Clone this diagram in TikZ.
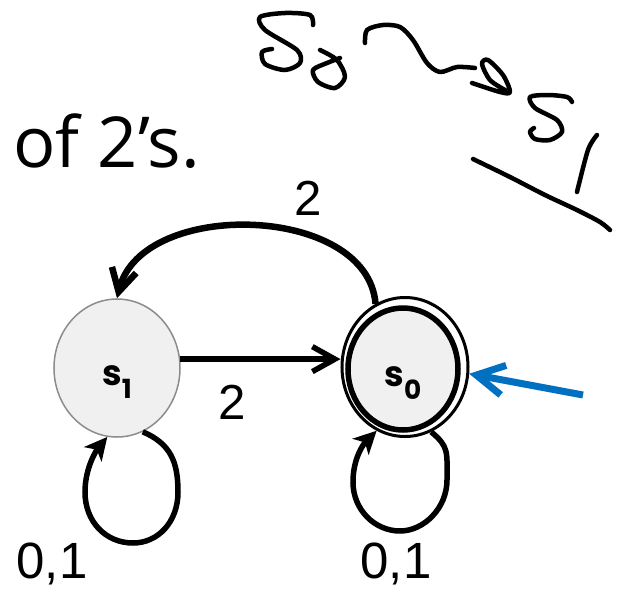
\documentclass[tikz,border=0pt]{standalone}
\usepackage{fontspec}
\setmainfont{Open Sans}
\newfontfamily\labelfont{Liberation Sans}
\newfontfamily\statefont{Poppins}
\usetikzlibrary{arrows.meta,shapes.geometric}
\definecolor{statefill}{HTML}{F0F0F0}
\definecolor{ring}{HTML}{8C8C8C}
\definecolor{startblue}{HTML}{0070C0}
\tikzset{state/.style={ellipse,fill=statefill,inner sep=0pt,text height=6.8mm,text depth=0pt,font=\statefont\bfseries\fontsize{20}{20}\selectfont},arr/.style={-{Straight Barb[length=4.5mm,width=5mm]},line width=1.1mm},loopy/.style={-{Stealth[length=4.5mm,width=4.5mm,inset=1.2mm]},line width=1.1mm},lbl/.style={font=\labelfont\fontsize{28}{28}\selectfont},ink/.style={line width=0.9mm,line cap=round,line join=round}}
\newcommand{\stname}[1]{s\raisebox{-0.37em}{\fontsize{15}{15}\selectfont #1}}

\begin{document}
\begin{tikzpicture}[x=0.2mm,y=-0.2mm]
\useasboundingbox (0,0) rectangle (631,592);
\node[anchor=base west,inner sep=0pt,font=\fontsize{40}{40}\selectfont] (title) at (13,167) {of 2’s.};
% states
\node[state,draw=ring,line width=0.3mm,minimum width=25.2mm,minimum height=27.6mm] (s1) at (117,368) {\stname{1}};
\node[state,draw,line width=1.1mm,minimum width=22mm,minimum height=24.4mm] (s0) at (403,369) {\stname{0}};
\node[ellipse,draw,line width=0.6mm,minimum width=25.2mm,minimum height=27.8mm] (s0ring) at (405,367) {};
% transitions
\draw[arr] (s1.8) -- (s1.8 -| s0ring.west);
\node[lbl] (lbl10) at (232,402) {2};
\draw[arr,line width=1.3mm] (s0ring.115) .. controls +(-8,-100) and +(25,-100) .. (s1.north);
\node[lbl] (lbl01) at (308,198) {2};
\draw[loopy] (s1.292) .. controls +(28,12) and +(0,-30) .. (178,492) .. controls +(0,30) and +(25,0) .. (133,543) .. controls +(-27,0) and +(0,30) .. (85,492) .. controls +(0,-25) and +(-10,12) .. (s1.262);
\node[lbl,font=\labelfont\fontsize{29}{29}\selectfont] (lbl11) at (52,564) {0,1};
\draw[loopy] (s0ring.292) .. controls +(18,15) and +(0,-28) .. (447,480) .. controls +(0,28) and +(24,0) .. (400,531) .. controls +(-25,0) and +(0,28) .. (353,482) .. controls +(0,-25) and +(-12,12) .. (s0ring.246);
\node[lbl,font=\labelfont\fontsize{29}{29}\selectfont] (lbl00) at (396,564) {0,1};
% start arrow
\coordinate (init) at (583,395);
\draw[-{Straight Barb[length=5.5mm,width=6mm]},draw=startblue,line width=1.4mm] (init) -- (s0ring.-6);
% handwritten note
\draw[ink] plot[smooth] coordinates {(313,25) (310,15) (285,13) (260,17) (265,30) (297,50) (300,63) (285,70) (265,64) (262,52) (272,49)};
\draw[ink] plot[smooth] coordinates {(320,50) (337,60) (345,77) (335,88) (318,82) (313,70) (327,63) (340,58)};
\draw[ink] plot[smooth] coordinates {(365,43) (367,30) (383,25) (400,27) (413,40) (427,63) (440,72) (457,67) (475,68)};
\draw[ink] plot[smooth] coordinates {(472,83) (500,92) (510,92) (503,75) (488,60) (482,64) (490,80) (505,90)};
\draw[ink] plot[smooth] coordinates {(572,102) (567,97) (548,95) (530,97) (535,108) (557,120) (562,132) (550,140) (535,139) (530,132) (534,128)};
\draw[ink] plot[smooth] coordinates {(597,135) (588,150) (577,192)};
\draw[ink] plot[smooth] coordinates {(473,159) (510,177) (545,195) (577,210) (600,222) (610,230)};
\end{tikzpicture}
\end{document}
